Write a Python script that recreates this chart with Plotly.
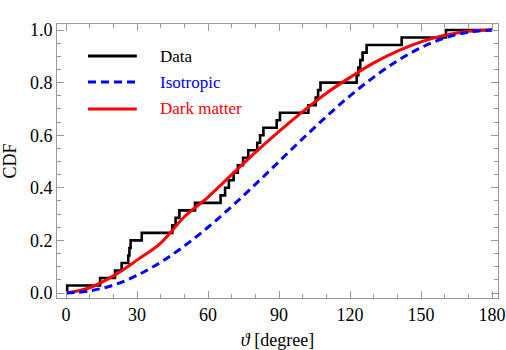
import plotly.graph_objects as go

# Data: angles (degrees) at which the empirical CDF steps up by 1/N
data_angles = [0.5, 14.4, 20.7, 23.5, 26.3, 26.8, 27.3, 32.0, 44.9, 46.3, 47.9, 54.5,
               65.3, 67.2, 68.8, 70.8, 72.6, 74.8, 77.0, 80.8, 82.0, 83.4, 89.0, 90.4,
               102.4, 105.5, 106.5, 107.5, 122.8, 123.5, 124.3, 125.3, 127.0, 141.8, 160.5]

# Model curves at every 10 degrees
curve_angles = [0, 10, 20, 30, 40, 50, 60, 70, 80, 90, 100, 110, 120, 130, 140, 150, 160, 170, 180]
isotropic = [0.0, 0.008, 0.03, 0.067, 0.117, 0.179, 0.25, 0.329, 0.413, 0.5, 0.587, 0.671,
             0.75, 0.821, 0.883, 0.933, 0.97, 0.992, 1.0]
dark_matter = [0.0, 0.02, 0.065, 0.125, 0.19, 0.29, 0.365, 0.45, 0.535, 0.615, 0.69, 0.76,
               0.82, 0.875, 0.92, 0.955, 0.98, 0.995, 1.0]

x_ticks = [0, 30, 60, 90, 120, 150, 180]
y_ticks = [0.0, 0.2, 0.4, 0.6, 0.8, 1.0]
y_tick_text = ["0.0", "0.2", "0.4", "0.6", "0.8", "1.0"]

legend_names = ["Data", "Isotropic", "Dark matter"]
legend_colors = ["black", "#0000ff", "#ff0000"]

N = len(data_angles)
step_x = [0.0] + data_angles + [180.0]
step_y = [0.0] + [(i + 1) / N for i in range(N)] + [1.0]

FONT = "Liberation Serif"

fig = go.Figure()
fig.add_trace(go.Scatter(x=step_x, y=step_y, mode="lines", line=dict(color="black", width=2.6, shape="hv"),
                         name="Data", showlegend=False))
fig.add_trace(go.Scatter(x=curve_angles, y=dark_matter, mode="lines",
                         line=dict(color="#ff0000", width=3, shape="spline"),
                         name="Dark matter", showlegend=False))
fig.add_trace(go.Scatter(x=curve_angles, y=isotropic, mode="lines",
                         line=dict(color="#0000ff", width=3, shape="spline", dash="8px,5px"),
                         name="Isotropic", showlegend=False))

# Manual legend (Mathematica-style)
leg_y = [0.883, 0.788, 0.690]
dashes = ["solid", "8px,5px", "solid"]
for name, col, yy, ds in zip(legend_names, legend_colors, leg_y, dashes):
    fig.add_shape(type="line", xref="paper", yref="paper", x0=0.0703, x1=0.181, y0=yy, y1=yy,
                  line=dict(color=col, width=3, dash=ds))
    fig.add_annotation(xref="paper", yref="paper", x=0.229, y=yy, text=name, showarrow=False,
                       xanchor="left", yanchor="middle", font=dict(family=FONT, size=17, color=col))

axis_common = dict(showline=True, linecolor="#9a9a9a", linewidth=1, mirror="allticks",
                   ticks="inside", tickcolor="#9a9a9a", ticklen=7, tickwidth=1,
                   showgrid=False, zeroline=False, automargin=False,
                   tickfont=dict(family=FONT, size=18, color="black"))

fig.update_xaxes(range=[-3.8, 182.5], tickvals=x_ticks,
                 minor=dict(ticks="inside", dtick=10, ticklen=4, tickcolor="#9a9a9a", showgrid=False),
                 title=dict(text="<i>ϑ</i> [degree]", font=dict(family=FONT, size=18, color="black"), standoff=12),
                 **axis_common)
fig.update_yaxes(range=[-0.019, 1.023], tickvals=y_ticks, ticktext=y_tick_text,
                 minor=dict(ticks="inside", dtick=0.05, ticklen=4, tickcolor="#9a9a9a", showgrid=False),
                 title=dict(text="CDF", font=dict(family=FONT, size=18, color="black"), standoff=8),
                 **axis_common)

fig.update_layout(width=506, height=350, margin=dict(l=57, r=8, t=24, b=52),
                  plot_bgcolor="white", paper_bgcolor="white", showlegend=False,
                  font=dict(family=FONT))

fig.write_html("out.html", post_script="document.body.style.margin='0';",
               config={"displayModeBar": False})
